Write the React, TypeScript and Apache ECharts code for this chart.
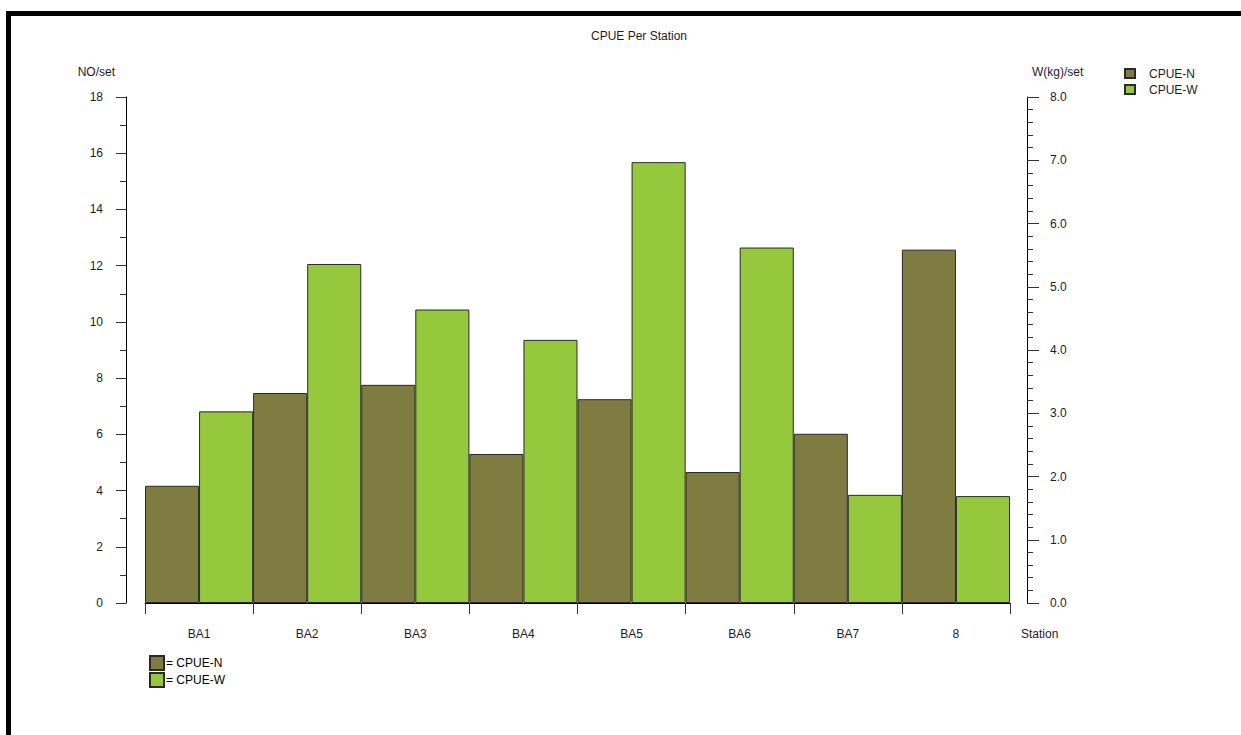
import React, { useEffect, useRef } from "react";
import * as echarts from "echarts";

const categories = ["BA1", "BA2", "BA3", "BA4", "BA5", "BA6", "BA7", "8"];
const cpueN = [4.17, 7.47, 7.76, 5.3, 7.25, 4.66, 6.02, 12.57];
const cpueW = [3.03, 5.36, 4.64, 4.16, 6.97, 5.62, 1.71, 1.69];
const seriesNames = ["CPUE-N", "CPUE-W"];
const colorN = "#7e7c41";
const colorW = "#95c83d";
const FONT = "'Liberation Sans', Arial, sans-serif";
const TXT = "#1c1c2a";

export default function App() {
  const ref = useRef<HTMLDivElement>(null);
  useEffect(() => {
    if (!ref.current) return;
    const chart = echarts.init(ref.current, null, { renderer: "svg" });
    chart.setOption({
      animation: false,
      backgroundColor: "#ffffff",
      textStyle: { fontFamily: FONT },
      title: {
        text: "CPUE Per Station",
        left: 634,
        top: 25,
        textAlign: "center",
        textStyle: { fontSize: 12, fontWeight: "normal", color: TXT, fontFamily: FONT },
      },
      legend: [
        {
          data: seriesNames,
          orient: "vertical",
          left: 1119,
          top: 62,
          itemWidth: 10,
          itemHeight: 9,
          itemGap: 3,
          icon: "rect",
          textStyle: { fontSize: 12, lineHeight: 13, color: TXT, fontFamily: FONT, padding: [0, 0, 0, 9] },
        },
        {
          data: seriesNames,
          orient: "vertical",
          left: 144,
          top: 650,
          itemWidth: 14,
          itemHeight: 14,
          itemGap: 1,
          icon: "rect",
          formatter: "= {name}",
          textStyle: { fontSize: 12, lineHeight: 14, color: "#000", fontFamily: FONT, padding: [0, 0, 0, -3] },
        },
      ],
      grid: { left: 145, right: 231, top: 97, bottom: 132, containLabel: false },
      xAxis: {
        type: "category",
        data: categories,
        axisLine: { show: true, lineStyle: { color: "#000", width: 1 } },
        axisTick: { show: true, length: 11, alignWithLabel: false, lineStyle: { color: "#333" } },
        axisLabel: { margin: 25, fontSize: 12, color: TXT, fontFamily: FONT },
        splitLine: { show: false },
      },
      yAxis: [
        {
          type: "value",
          position: "left",
          offset: 19,
          min: 0,
          max: 18,
          interval: 2,
          axisLine: { show: true, lineStyle: { color: "#000", width: 1 } },
          axisTick: { show: true, length: 10, lineStyle: { color: "#333" } },
          minorTick: { show: true, splitNumber: 2, length: 6, lineStyle: { color: "#333" } },
          axisLabel: { margin: 23, fontSize: 12, color: TXT, fontFamily: FONT },
          splitLine: { show: false },
          minorSplitLine: { show: false },
        },
        {
          type: "value",
          position: "right",
          offset: 17,
          min: 0,
          max: 8,
          interval: 1,
          axisLine: { show: true, lineStyle: { color: "#000", width: 1 } },
          axisTick: { show: true, length: 12, lineStyle: { color: "#333" } },
          minorTick: { show: true, splitNumber: 5, length: 6, lineStyle: { color: "#333" } },
          axisLabel: {
            margin: 23,
            fontSize: 12,
            color: TXT,
            fontFamily: FONT,
            formatter: (v: number) => v.toFixed(1),
          },
          splitLine: { show: false },
          minorSplitLine: { show: false },
        },
      ],
      series: [
        {
          name: seriesNames[0],
          type: "bar",
          yAxisIndex: 0,
          data: cpueN,
          barGap: "0%",
          barCategoryGap: "0%",
          itemStyle: { color: colorN, borderColor: "#2a2a2a", borderWidth: 1 },
        },
        {
          name: seriesNames[1],
          type: "bar",
          yAxisIndex: 1,
          data: cpueW,
          barGap: "0%",
          barCategoryGap: "0%",
          itemStyle: { color: colorW, borderColor: "#2a2a2a", borderWidth: 1 },
        },
      ],
      graphic: [
        { type: "rect", shape: { x: 6, y: 11, width: 1235, height: 5 }, style: { fill: "#000" }, silent: true },
        { type: "rect", shape: { x: 6, y: 11, width: 5, height: 724 }, style: { fill: "#000" }, silent: true },
        {
          type: "text",
          x: 115,
          y: 72,
          style: { text: "NO/set", fill: TXT, fontSize: 12, fontFamily: FONT, align: "right", verticalAlign: "middle" },
        },
        {
          type: "text",
          x: 1032,
          y: 72,
          style: { text: "W(kg)/set", fill: TXT, fontSize: 12, fontFamily: FONT, align: "left", verticalAlign: "middle" },
        },
        {
          type: "text",
          x: 1021,
          y: 634,
          style: { text: "Station", fill: TXT, fontSize: 12, fontFamily: FONT, align: "left", verticalAlign: "middle" },
        },
      ],
    });
    return () => chart.dispose();
  }, []);
  return (
    <div
      ref={ref}
      style={{ position: "absolute", left: 0, top: 0, width: 1241, height: 735 }}
    />
  );
}
